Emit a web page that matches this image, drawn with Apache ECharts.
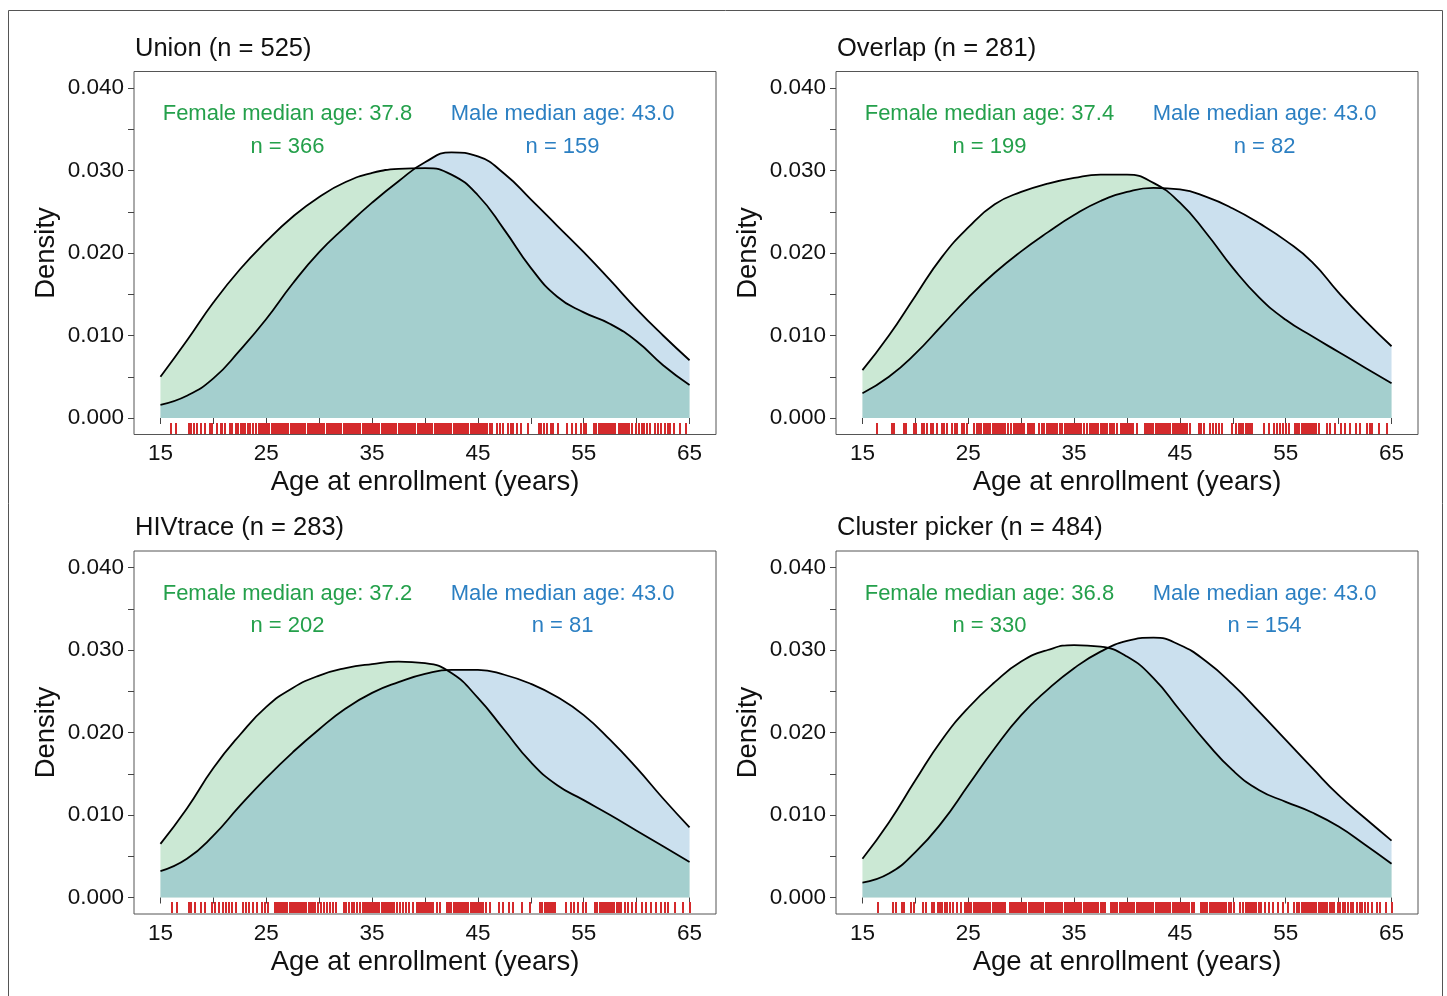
<!DOCTYPE html>
<html><head><meta charset="utf-8">
<script src="https://cdn.jsdelivr.net/npm/echarts@6/dist/echarts.min.js"></script>
<style>html,body{margin:0;padding:0;background:#fff}#c{width:1447px;height:996px}</style>
</head><body><div id="c"></div><script>
// ---- data ----
const ages = [15,17.5,20,22.5,25,27.5,30,32.5,35,37.5,40,42.5,45,47.5,50,52.5,55,57.5,60,62.5,65];
const panelNames = ['Union','Overlap','HIVtrace','Cluster picker'];
const panelN = [525,281,283,484];
const femaleMedian = ['37.8','37.4','37.2','36.8'];
const maleMedian = ['43.0','43.0','43.0','43.0'];
const femaleN = [366,199,202,330];
const maleN = [159,82,81,154];
const xTicks = [15,20,25,30,35,40,45,50,55,60,65];
const xLabels = [15,25,35,45,55,65];
const yTicks = [0,0.005,0.01,0.015,0.02,0.025,0.03,0.035,0.04];
const yLabels = [0,0.01,0.02,0.03,0.04];

const unionFemale = [0.0050,0.0094,0.0140,0.0180,0.0214,0.0244,0.0268,0.0286,0.0297,0.0302,0.0303,0.0295,0.0270,0.0228,0.0182,0.0147,0.0128,0.0114,0.0093,0.0064,0.0040];
const unionMale   = [0.0016,0.0027,0.0048,0.0082,0.0120,0.0163,0.0201,0.0232,0.0261,0.0287,0.0310,0.0322,0.0317,0.0296,0.0265,0.0233,0.0201,0.0167,0.0132,0.0100,0.0070];
const overlapFemale = [0.0058,0.0100,0.0148,0.0195,0.0231,0.0259,0.0274,0.0284,0.0291,0.0295,0.0295,0.0285,0.0261,0.0224,0.0182,0.0146,0.0119,0.0099,0.0080,0.0061,0.0042];
const overlapMale   = [0.0030,0.0050,0.0078,0.0112,0.0146,0.0176,0.0202,0.0225,0.0246,0.0263,0.0274,0.0279,0.0277,0.0268,0.0254,0.0236,0.0215,0.0189,0.0152,0.0118,0.0087];
const hivFemale = [0.0065,0.0108,0.0157,0.0197,0.0231,0.0254,0.0269,0.0278,0.0283,0.0286,0.0284,0.0272,0.0242,0.0203,0.0164,0.0136,0.0118,0.0100,0.0081,0.0062,0.0043];
const hivMale   = [0.0032,0.0047,0.0075,0.0111,0.0145,0.0176,0.0204,0.0229,0.0248,0.0261,0.0271,0.0276,0.0276,0.0270,0.0259,0.0243,0.0221,0.0191,0.0157,0.0120,0.0085];
const clusterFemale = [0.0047,0.0091,0.0142,0.0191,0.0230,0.0261,0.0286,0.0300,0.0306,0.0304,0.0292,0.0266,0.0227,0.0188,0.0154,0.0130,0.0116,0.0103,0.0086,0.0064,0.0041];
const clusterMale   = [0.0018,0.0029,0.0055,0.0091,0.0136,0.0181,0.0221,0.0252,0.0278,0.0298,0.0311,0.0315,0.0306,0.0286,0.0258,0.0225,0.0191,0.0157,0.0124,0.0096,0.0069];

const unionRug = [16.0,16.5,17.7,17.9,18.2,18.5,18.8,19.2,19.7,19.9,20.3,20.7,20.8,21.1,21.6,21.8,22.1,22.3,22.6,22.8,23.0,23.3,23.5,23.7,24.0,
24.3,24.5,24.7,24.9,25.1,25.3,25.5,25.7,25.9,26.1,26.3,26.5,26.7,
26.9,27.1,27.3,27.5,27.7,27.9,28.1,28.3,28.5,28.7,28.9,29.1,29.3,29.5,29.7,29.9,30.1,30.3,30.5,30.7,30.9,31.1,31.3,31.5,31.7,31.9,32.1,32.3,32.5,32.7,32.9,33.1,33.3,33.5,33.7,33.9,34.1,34.3,34.5,34.7,34.9,35.1,35.3,35.5,35.7,35.9,36.1,36.3,36.5,36.7,36.9,37.1,37.3,37.5,37.7,37.9,38.1,38.3,38.5,38.7,38.9,39.1,39.3,39.5,39.7,39.9,40.1,40.3,40.5,40.7,40.9,41.1,41.3,41.5,41.7,41.9,42.1,42.3,42.5,42.7,42.9,43.1,43.3,43.5,43.7,43.9,44.1,44.3,44.5,44.7,44.9,45.1,45.3,45.5,45.7,45.9,46.1,46.3,
46.8,47.1,47.4,47.8,48.1,48.3,48.7,49.1,49.7,50.8,51.0,51.2,51.5,51.9,52.1,52.6,53.4,53.9,54.3,54.7,55.0,55.2,
56.0,56.2,56.4,56.6,56.8,57.0,57.2,57.4,57.6,57.8,58.0,58.3,58.5,58.7,58.9,59.1,59.3,59.6,59.9,
60.2,60.5,60.7,61.0,61.3,61.7,62.0,62.3,62.7,63.0,63.2,63.5,64.1,64.7];
const overlapRug = [16.4,17.8,18.0,18.9,19.15,19.85,20.1,20.6,20.8,21.1,21.5,21.7,22.05,22.5,22.7,23.0,23.5,23.7,23.9,24.4,24.6,24.9,25.5,25.8,26.0,26.2,
26.5,26.7,26.9,27.1,27.3,27.5,27.7,27.9,28.1,28.3,28.5,28.8,29.0,29.3,29.5,29.7,29.9,30.1,30.3,30.6,30.8,31.0,31.2,31.7,32.0,32.2,32.4,32.6,32.8,33.0,33.2,33.4,
33.7,33.9,34.1,34.3,34.5,34.7,34.9,35.1,35.3,35.5,35.7,35.9,36.2,36.5,36.7,36.9,37.1,37.3,37.5,37.7,37.9,38.1,38.4,38.6,38.8,39.1,39.4,39.6,39.8,40.0,40.2,40.4,40.6,40.9,
41.7,41.9,42.1,42.3,42.5,42.7,42.9,43.1,43.3,43.5,43.7,43.9,44.1,44.3,44.5,44.7,44.9,45.1,45.3,45.5,45.7,46.0,
46.8,47.0,47.3,47.8,48.1,48.4,48.7,49.0,49.9,50.3,50.6,50.8,51.0,51.2,51.4,51.6,51.8,52.9,53.4,53.9,54.2,54.5,54.7,55.0,55.3,
55.9,56.1,56.3,56.5,56.7,56.9,57.1,57.3,57.5,57.7,57.9,58.1,58.9,59.2,59.7,60.2,60.6,61.1,61.6,62.0,62.7,63.0,63.2,63.8,64.6];
const hivRug = [16.1,16.6,17.7,17.9,18.3,18.85,19.2,19.9,20.2,20.5,20.9,21.2,21.5,21.8,22.1,22.8,23.1,23.4,23.7,24.1,24.6,24.9,25.2,
25.8,26.0,26.2,26.4,26.6,26.8,27.0,27.2,27.4,27.6,27.8,28.0,28.2,28.4,28.6,28.8,29.0,29.2,29.4,29.6,29.9,30.2,30.5,30.7,31.0,31.3,31.6,
32.3,32.5,32.8,33.1,33.3,33.6,33.9,34.1,34.3,34.5,34.7,34.9,35.1,35.3,35.5,35.7,35.9,36.1,36.3,36.5,36.7,36.9,37.1,37.4,37.6,37.9,38.2,38.5,38.9,
39.2,39.4,39.6,39.8,40.0,40.2,40.4,40.6,40.8,41.1,41.4,42.1,42.3,42.5,42.7,42.9,43.1,43.3,43.5,43.7,43.9,44.1,44.3,44.5,44.7,44.9,45.1,45.3,45.5,45.8,46.1,
47.0,47.4,47.9,48.3,49.2,49.9,50.9,51.1,51.3,51.5,51.7,51.9,52.1,52.3,53.3,53.8,54.1,54.5,54.9,55.2,
56.1,56.3,56.5,56.7,56.9,57.1,57.3,57.5,57.7,57.9,58.1,58.3,58.5,58.9,59.2,59.6,59.9,60.5,60.9,61.4,61.8,62.3,62.7,63.0,63.6,64.4,65.0];
const clusterRug = [16.5,17.9,18.2,18.7,18.9,19.6,19.9,20.7,21.0,21.6,21.8,22.1,22.3,22.5,22.8,23.0,23.3,23.6,23.9,24.3,
24.7,24.9,25.1,25.3,25.5,25.7,25.9,26.1,26.3,26.5,26.7,26.9,27.1,27.3,27.5,27.7,27.9,28.1,28.3,28.5,
28.9,29.1,29.3,29.5,29.7,29.9,30.1,30.3,30.5,30.7,30.9,31.1,31.3,31.5,31.7,31.9,32.1,32.3,32.5,32.7,32.9,33.1,33.3,33.5,33.7,33.9,34.1,34.3,34.5,34.7,34.9,35.1,35.3,35.5,35.7,35.9,36.1,36.3,36.5,36.7,36.9,37.1,37.3,37.5,37.7,37.9,
38.5,38.7,38.9,39.1,39.3,39.5,39.7,39.9,40.1,40.3,40.5,40.7,40.9,41.1,41.3,41.5,41.7,41.9,42.1,42.3,42.5,42.7,42.9,43.1,43.3,43.5,43.7,43.9,44.1,44.3,44.5,44.7,44.9,45.1,45.3,45.5,45.7,45.9,46.1,46.3,
47.0,47.2,47.4,47.6,47.8,48.0,48.2,48.4,48.6,48.8,49.0,49.2,49.4,49.6,49.8,50.1,
50.7,51.0,51.2,51.4,51.6,51.8,52.0,52.2,52.5,52.7,53.0,53.4,53.8,54.3,54.7,55.2,55.8,
56.1,56.3,56.5,56.7,56.9,57.1,57.3,57.5,57.7,57.9,58.1,58.3,58.5,58.7,58.9,59.2,
59.4,59.6,59.9,60.1,60.4,60.6,60.9,61.2,61.4,61.7,62.0,62.2,62.5,62.8,63.2,63.6,63.9,64.5,65.0];

const femaleCurves = [unionFemale, overlapFemale, hivFemale, clusterFemale];
const maleCurves = [unionMale, overlapMale, hivMale, clusterMale];
const rugs = [unionRug, overlapRug, hivRug, clusterRug];

// ---- layout / style ----
const FONT = "'Liberation Sans', Arial, Helvetica, sans-serif";
const GREEN = '#31a354', BLUE = '#3182bd', RUG = '#d42a2c';
const GREEN_TXT = '#24a04b', BLUE_TXT = '#2b7fc2';
const lefts = [134, 836, 134, 836];
const tops = [71.5, 71.5, 551, 551];
const GW = 582, GH = 363;

const chart = echarts.init(document.getElementById('c'), null, {renderer: 'canvas'});
const grid = [], xAxis = [], yAxis = [], series = [], title = [];

for (let i = 0; i < 4; i++) {
  grid.push({left: lefts[i], top: tops[i], width: GW, height: GH, show: true,
    borderColor: '#555', borderWidth: 1, backgroundColor: 'transparent', containLabel: false});
  title.push({text: panelNames[i] + ' (n = ' + panelN[i] + ')', left: lefts[i] - 4, top: tops[i] - 41,
    textStyle: {fontFamily: FONT, fontSize: 25.5, fontWeight: 'normal', color: '#111'}});
  xAxis.push({type: 'value', gridIndex: i, min: 12.5, max: 67.5,
    name: 'Age at enrollment (years)', nameLocation: 'middle', nameGap: 34,
    nameTextStyle: {fontFamily: FONT, fontSize: 27.5, color: '#111'},
    axisLine: {show: false},
    axisTick: {show: true, length: 6, lineStyle: {color: '#444', width: 1}, customValues: xTicks},
    axisLabel: {fontFamily: FONT, fontSize: 22.5, color: '#111', margin: 8, customValues: xLabels},
    splitLine: {show: false}});
  yAxis.push({type: 'value', gridIndex: i, min: -0.002, max: 0.042,
    name: 'Density', nameLocation: 'middle', nameGap: 74,
    nameTextStyle: {fontFamily: FONT, fontSize: 27.5, color: '#111'},
    axisLine: {show: false},
    axisTick: {show: true, length: 6, lineStyle: {color: '#444', width: 1}, customValues: yTicks},
    axisLabel: {fontFamily: FONT, fontSize: 22.5, color: '#111', margin: 10, customValues: yLabels,
      formatter: v => Number(v).toFixed(3)},
    splitLine: {show: false}});

  const mk = (arr) => ages.map((a, k) => [a, arr[k]]);
  series.push({type: 'line', xAxisIndex: i, yAxisIndex: i, data: mk(femaleCurves[i]),
    smooth: 0.5, symbol: 'none', lineStyle: {color: '#000', width: 1.8},
    areaStyle: {color: GREEN, opacity: 0.25}, z: 2});
  series.push({type: 'line', xAxisIndex: i, yAxisIndex: i, data: mk(maleCurves[i]),
    smooth: 0.5, symbol: 'none', lineStyle: {color: '#000', width: 1.8},
    areaStyle: {color: BLUE, opacity: 0.25}, z: 2});
  series.push({type: 'custom', xAxisIndex: i, yAxisIndex: i,
    data: rugs[i].map(a => [a, 0]),
    renderItem: (params, api) => {
      const p = api.coord([api.value(0), -0.002]);
      return {type: 'rect', shape: {x: Math.round(p[0]) - 1, y: Math.round(p[1]) - 12, width: 2, height: 11},
        style: {fill: RUG, stroke: null}};
    }, z: 3});
  const lbl = (txt, col) => ({show: true, position: 'inside', formatter: txt, opacity: 1,
    fontFamily: FONT, fontSize: 22, color: col});
  series.push({type: 'scatter', xAxisIndex: i, yAxisIndex: i, symbolSize: 1,
    itemStyle: {color: 'rgba(0,0,0,0)'}, silent: true, z: 5,
    data: [
      {value: [27, 0.0368], label: lbl('Female median age: ' + femaleMedian[i], GREEN_TXT)},
      {value: [27, 0.0329], label: lbl('n = ' + femaleN[i], GREEN_TXT)},
      {value: [53, 0.0368], label: lbl('Male median age: ' + maleMedian[i], BLUE_TXT)},
      {value: [53, 0.0329], label: lbl('n = ' + maleN[i], BLUE_TXT)}
    ]});
}

chart.setOption({
  animation: false,
  backgroundColor: '#fff',
  title, grid, xAxis, yAxis, series,
  graphic: [{type: 'rect', silent: true,
    shape: {x: 8.5, y: 10.5, width: 1434, height: 1000}, style: {fill: 'none', stroke: '#555', lineWidth: 1}}]
});
</script></body></html>
